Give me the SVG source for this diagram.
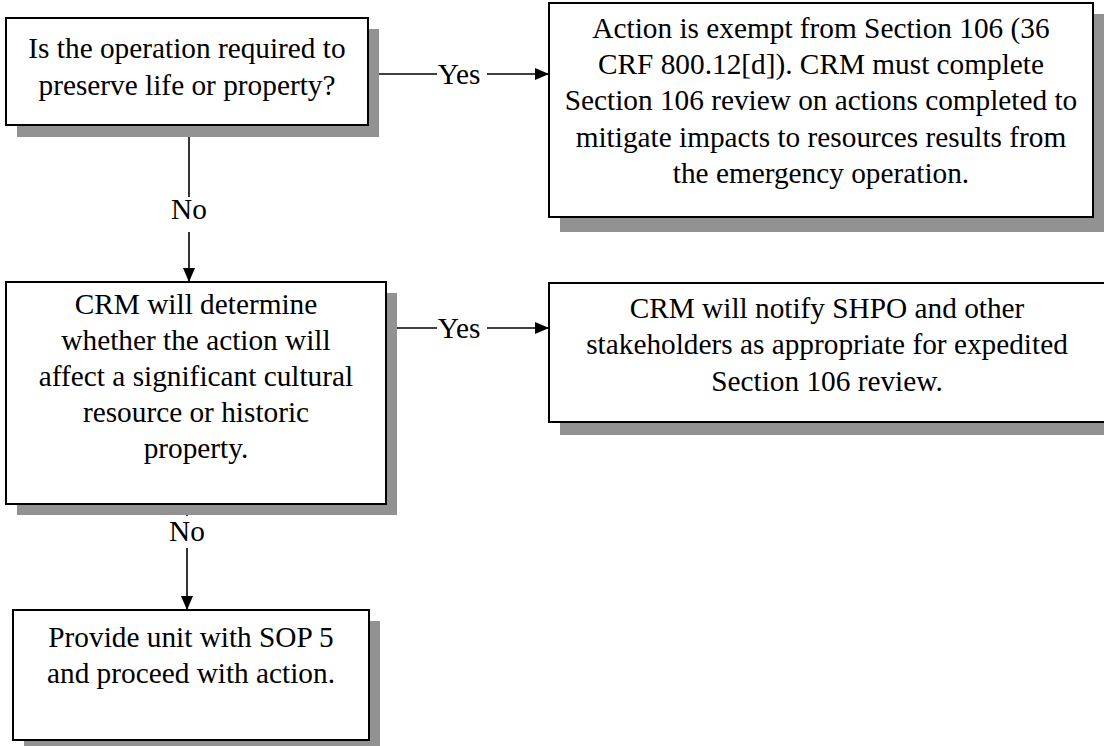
<svg xmlns="http://www.w3.org/2000/svg" width="1104" height="746" viewBox="0 0 1104 746">
  <style>
    .box { fill: #ffffff; stroke: #000000; stroke-width: 2; }
    .shadow { fill: #929292; }
    .edge { stroke: #000000; stroke-width: 1.6; fill: none; }
  </style>
  <defs>
    <marker id="arrow" viewBox="0 0 14 12" refX="14" refY="6" markerWidth="14" markerHeight="12" markerUnits="userSpaceOnUse" orient="auto">
      <path d="M0,0 L14,6 L0,12 Z" fill="#000000"/>
    </marker>
  </defs>
  <rect width="1104" height="746" fill="#ffffff"/>

  <g font-family="Liberation Serif, Times New Roman, DejaVu Serif, serif" font-size="29.3" fill="#000000" text-anchor="middle">
    <!-- connectors -->
    <g id="connectors">
      <line class="edge" x1="369" y1="74" x2="437" y2="74"/>
      <text x="459" y="84">Yes</text>
      <line class="edge" x1="487" y1="74" x2="549" y2="74" marker-end="url(#arrow)"/>

      <line class="edge" x1="189" y1="125" x2="189" y2="197"/>
      <text x="189" y="219">No</text>
      <line class="edge" x1="189" y1="232" x2="189" y2="282" marker-end="url(#arrow)"/>

      <line class="edge" x1="386" y1="328" x2="437" y2="328"/>
      <text x="459" y="338">Yes</text>
      <line class="edge" x1="487" y1="328" x2="549" y2="328" marker-end="url(#arrow)"/>

      <line class="edge" x1="187" y1="504" x2="187" y2="516"/>
      <text x="187" y="541">No</text>
      <line class="edge" x1="187" y1="548" x2="187" y2="610" marker-end="url(#arrow)"/>
    </g>

    <!-- decision: life or property -->
    <g id="node-preserve">
      <rect class="shadow" x="17" y="29" width="362" height="108"/>
      <rect class="box" x="6" y="18" width="362" height="107"/>
      <text x="187" y="58">Is the operation required to</text>
      <text x="187" y="95">preserve life or property?</text>
    </g>

    <!-- exemption outcome -->
    <g id="node-exempt">
      <rect class="shadow" x="560" y="14" width="544" height="218"/>
      <rect class="box" x="549" y="3" width="544" height="214"/>
      <text x="821" y="38">Action is exempt from Section 106 (36</text>
      <text x="821" y="74">CRF 800.12[d]). CRM must complete</text>
      <text x="821" y="110">Section 106 review on actions completed to</text>
      <text x="821" y="147">mitigate impacts to resources results from</text>
      <text x="821" y="183">the emergency operation.</text>
    </g>

    <!-- decision: significant resource -->
    <g id="node-determine">
      <rect class="shadow" x="17" y="293" width="380" height="222"/>
      <rect class="box" x="6" y="282" width="380" height="222"/>
      <text x="196" y="314">CRM will determine</text>
      <text x="196" y="350">whether the action will</text>
      <text x="196" y="386">affect a significant cultural</text>
      <text x="196" y="422">resource or historic</text>
      <text x="196" y="458">property.</text>
    </g>

    <!-- notify outcome -->
    <g id="node-notify">
      <rect class="shadow" x="560" y="294" width="544" height="141"/>
      <rect class="box" x="549" y="283" width="560" height="139"/>
      <text x="827" y="318">CRM will notify SHPO and other</text>
      <text x="827" y="354">stakeholders as appropriate for expedited</text>
      <text x="827" y="391">Section 106 review.</text>
    </g>

    <!-- proceed outcome -->
    <g id="node-proceed">
      <rect class="shadow" x="24" y="621" width="356" height="125"/>
      <rect class="box" x="13" y="610" width="356" height="130"/>
      <text x="191" y="647">Provide unit with SOP 5</text>
      <text x="191" y="683">and proceed with action.</text>
    </g>
  </g>
</svg>
